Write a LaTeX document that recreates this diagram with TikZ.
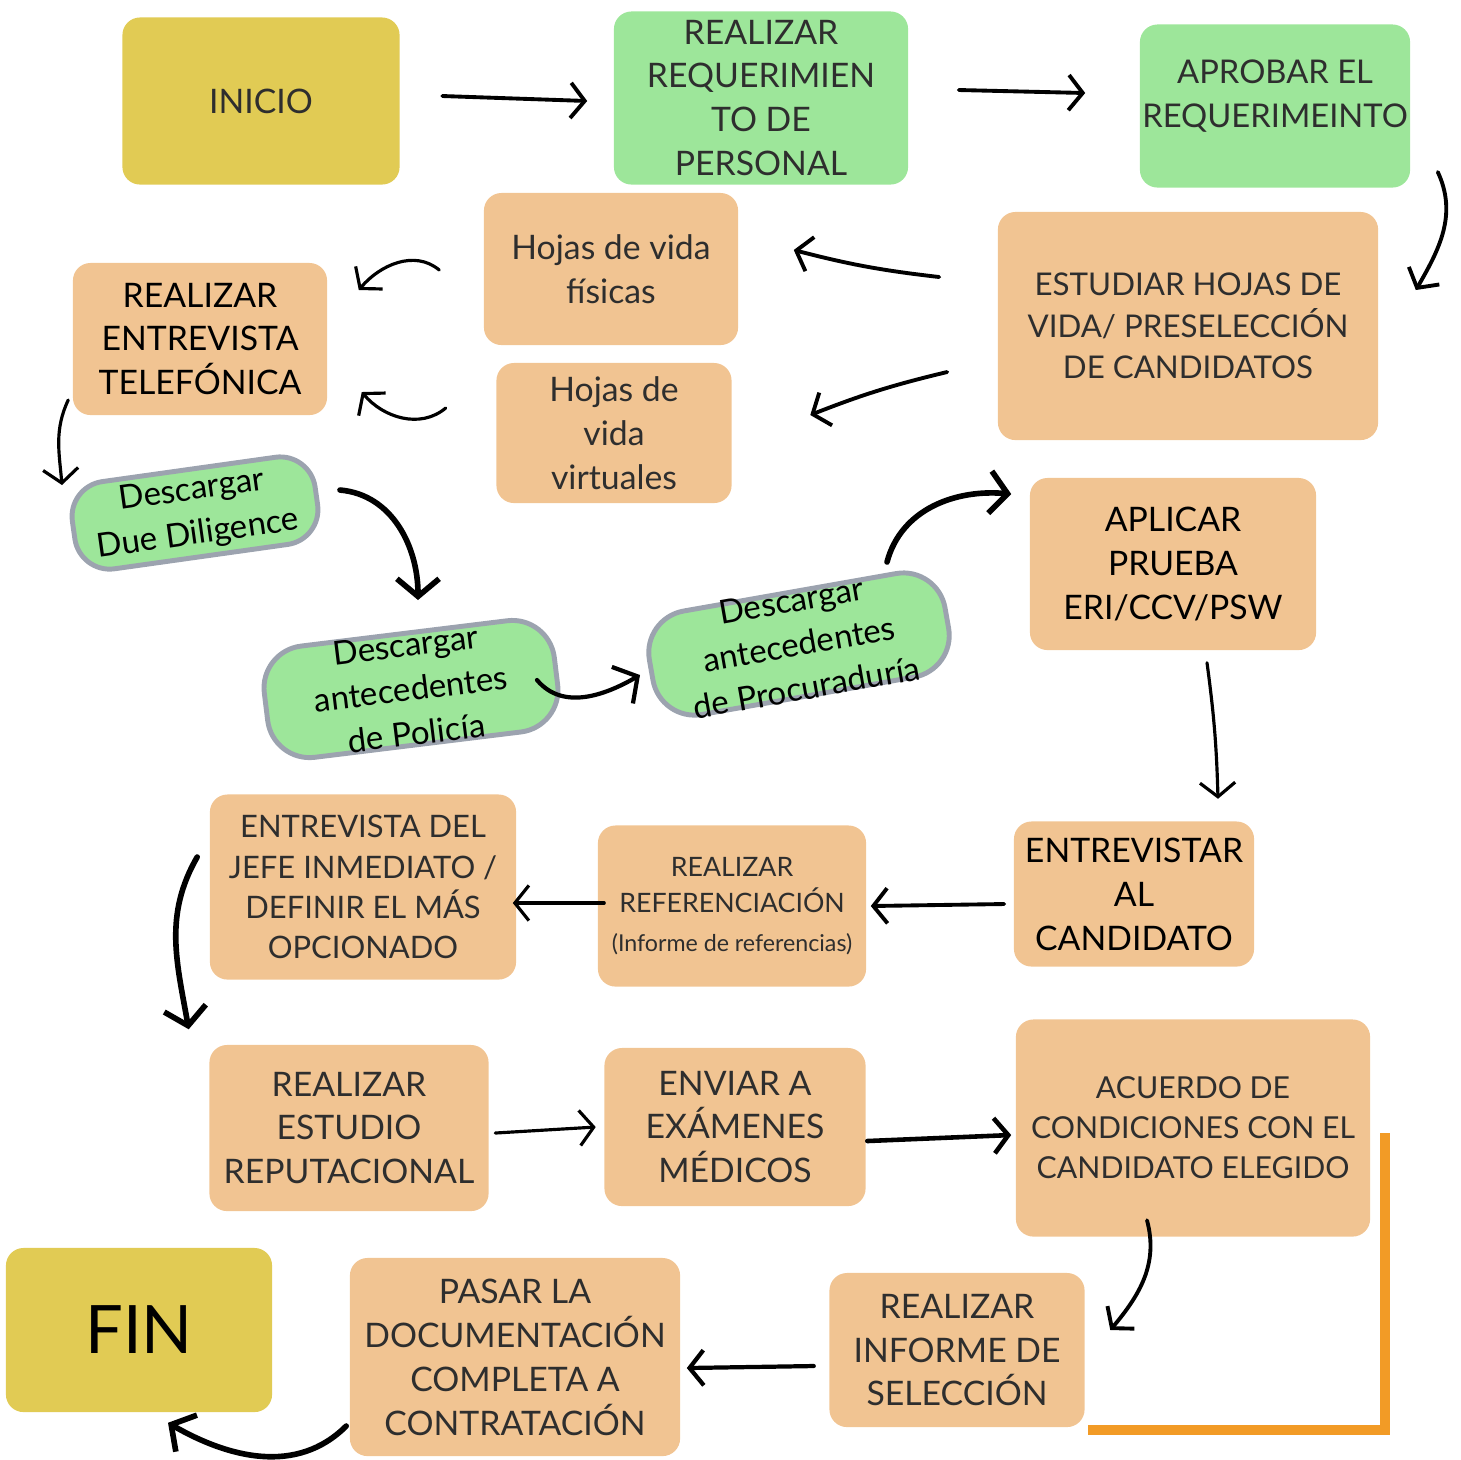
\documentclass[tikz,border=0pt]{standalone}
\usepackage{fontspec}
\setmainfont{Lato}
\usetikzlibrary{
    arrows.meta,
    calc,
    shapes.geometric
}
\definecolor{startyellow}{HTML}{E1CB54}
\definecolor{reqgreen}{HTML}{9DE69A}
\definecolor{stepbeige}{HTML}{F1C492}
\definecolor{blobgray}{HTML}{9CA3AF}
\definecolor{boxtext}{HTML}{2E2E2E}
\definecolor{markorange}{HTML}{F29B26}

\begin{document}
\begin{tikzpicture}[
  x=0.01cm, y=-0.01cm,
  box/.style={rounded corners=5pt, inner sep=0pt, align=center, text=boxtext,
    font=\fontsize{9.6}{12.5}\selectfont},
  yellowbox/.style={box, fill=startyellow},
  greenbox/.style={box, fill=reqgreen},
  stepbox/.style={box, fill=stepbeige},
  blob/.style={rectangle, rounded corners=12pt, fill=reqgreen, draw=blobgray, line width=1.4pt,
    inner xsep=-6pt, inner ysep=-8pt, align=center, text=black,
    font=\fontsize{9.4}{12.6}\selectfont},
  flow/.style={-{Straight Barb[length=4pt,width=10pt]}, line width=0.9pt, line cap=round},
  boldflow/.style={-{Straight Barb[length=5pt,width=12pt]}, line width=1.6pt, line cap=round}
]
  \useasboundingbox (0,0) rectangle (1461,1459);

  % top row {{{
  \node[
    yellowbox,
    minimum width=2.77cm,
    minimum height=1.67cm
  ] (inicio) at (261,101) {INICIO};
  \node[
    greenbox,
    minimum width=2.94cm,
    minimum height=1.73cm
  ] (requerir) at (761,98) {REALIZAR\\REQUERIMIEN\\TO DE\\PERSONAL};
  \node[
    greenbox,
    minimum width=2.70cm,
    minimum height=1.63cm,
    text depth=7.3pt,
    font=\fontsize{9.3}{12.5}\selectfont
  ] (aprobar) at (1275,106) {APROBAR EL\\REQUERIMEINTO};
  % }}}

  % hojas de vida {{{
  \node[
    stepbox,
    minimum width=3.80cm,
    minimum height=2.28cm,
    font=\fontsize{8.9}{11.8}\selectfont
  ] (estudiar) at (1188,326) {ESTUDIAR HOJAS DE\\VIDA/ PRESELECCIÓN\\DE CANDIDATOS};
  \node[
    stepbox,
    minimum width=2.54cm,
    minimum height=1.52cm
  ] (fisicas) at (611,269) {Hojas de vida\\físicas};
  \node[
    stepbox,
    minimum width=2.35cm,
    minimum height=1.40cm
  ] (virtuales) at (614,433) {Hojas de\\vida\\virtuales};
  \node[
    stepbox,
    minimum width=2.54cm,
    minimum height=1.52cm,
    text=black
  ] (telefono) at (200,339) {REALIZAR\\ENTREVISTA\\TELEFÓNICA};
  % }}}

  % descargas {{{
  \node[
    blob,
    minimum width=2.45cm,
    minimum height=0.88cm,
    rounded corners=10pt,
    rotate=8
  ] (diligence) at (195,513) {Descargar\\Due Diligence};
  \node[
    blob,
    minimum width=2.92cm,
    minimum height=1.12cm,
    rotate=7
  ] (policia) at (411,689) {Descargar\\antecedentes\\de Policía};
  \node[
    blob,
    minimum width=3.00cm,
    minimum height=1.05cm,
    rotate=10
  ] (procuraduria) at (799,644) {Descargar\\antecedentes\\de Procuraduría};
  \node[
    stepbox,
    minimum width=2.86cm,
    minimum height=1.72cm,
    text=black
  ] (aplicar) at (1173,564) {APLICAR\\PRUEBA\\ERI/CCV/PSW};
  % }}}

  % entrevistas {{{
  \node[
    stepbox,
    minimum width=2.40cm,
    minimum height=1.45cm,
    text=black
  ] (candidato) at (1134,894) {ENTREVISTAR\\AL\\CANDIDATO};
  \node[
    stepbox,
    minimum width=2.68cm,
    minimum height=1.61cm,
    font=\fontsize{7.6}{10.2}\selectfont
  ] (referencias) at (732,906) {REALIZAR\\REFERENCIACIÓN\\[1pt]{\fontsize{6.6}{8}\selectfont(Informe de referencias)}};
  \node[
    stepbox,
    minimum width=3.06cm,
    minimum height=1.85cm,
    font=\fontsize{8.8}{11.4}\selectfont
  ] (jefe) at (363,887) {ENTREVISTA DEL\\JEFE INMEDIATO /\\DEFINIR EL MÁS\\OPCIONADO};
  % }}}

  % cierre {{{
  \node[
    stepbox,
    minimum width=2.79cm,
    minimum height=1.66cm
  ] (reputacion) at (349,1128) {REALIZAR\\ESTUDIO\\REPUTACIONAL};
  \node[
    stepbox,
    minimum width=2.61cm,
    minimum height=1.58cm
  ] (examenes) at (735,1127) {ENVIAR A\\EXÁMENES\\MÉDICOS};
  \node[
    stepbox,
    minimum width=3.54cm,
    minimum height=2.17cm,
    font=\fontsize{8.6}{11.4}\selectfont
  ] (acuerdo) at (1193,1128) {ACUERDO DE\\CONDICIONES CON EL\\CANDIDATO ELEGIDO};
  \node[
    stepbox,
    minimum width=2.55cm,
    minimum height=1.54cm
  ] (informe) at (957,1350) {REALIZAR\\INFORME DE\\SELECCIÓN};
  \node[
    stepbox,
    minimum width=3.30cm,
    minimum height=1.98cm
  ] (contratacion) at (515,1357) {PASAR LA\\DOCUMENTACIÓN\\COMPLETA A\\CONTRATACIÓN};
  \node[
    yellowbox,
    minimum width=2.66cm,
    minimum height=1.64cm,
    text=black,
    font=\fontsize{19}{22}\selectfont
  ] (fin) at (139,1330) {FIN};
  % }}}

  % flechas {{{
  \draw[flow, line width=1.1pt] ($(inicio.east)+(42,-5)$) -- ($(requerir.west)+(-26,3)$);
  \draw[flow, line width=1.1pt] ($(requerir.east)+(50,-8)$) -- ($(aprobar.west)+(-54,-13)$);
  \draw[flow, line width=1.1pt] ($(aprobar.east)+(27,66)$) to[out=-65,in=60] ($(estudiar.east)+(37,-36)$);
  \draw[flow, line width=1.1pt] ($(estudiar.west)+(-58,-49)$) to[bend left=4] ($(fisicas.east)+(55,-19)$);
  \draw[flow, line width=1.1pt] ($(estudiar.west)+(-50,46)$) to[bend right=4] ($(virtuales.east)+(78,-18)$);
  \draw[flow] ($(fisicas.west)+(-44,1)$) to[out=140,in=50] ($(telefono.east)+(31,-49)$);
  \draw[flow] ($(virtuales.west)+(-50,-25)$) to[out=-140,in=-50] ($(telefono.east)+(34,53)$);
  \draw[flow] ($(telefono.west)+(-4,61)$) to[out=-115,in=95] ($(diligence.center)+(-133,-28)$);
  \draw[boldflow] ($(diligence.center)+(145,-23)$) to[out=-5,in=90] ($(policia.center)+(7,-89)$);
  \draw[boldflow, line width=1.2pt] ($(policia.center)+(126,-9)$) to[out=-50,in=-150] ($(procuraduria.center)+(-159,31)$);
  \draw[boldflow] ($(procuraduria.center)+(88,-82)$) to[out=75,in=175] ($(aplicar.west)+(-18,-70)$);
  \draw[flow] ($(aplicar.south)+(34,12)$) to[bend left=3] ($(candidato.north)+(84,-22)$);
  \draw[flow, line width=1.1pt] ($(candidato.west)+(-9,10)$) -- ($(referencias.east)+(4,0)$);
  \draw[flow] ($(referencias.west)+(7,-3)$) -- ($(jefe.east)+(-4,16)$);
  \draw[boldflow] ($(jefe.west)+(-12,-30)$) to[out=-120,in=100] ($(reputacion.north west)+(-20,-15)$);
  \draw[flow] ($(reputacion.east)+(6,5)$) -- ($(examenes.west)+(-8,0)$);
  \draw[flow, line width=1.3pt] ($(examenes.east)+(1,14)$) -- ($(acuerdo.west)+(-4,7)$);
  \draw[flow, line width=1.1pt] ($(acuerdo.south)+(-46,-17)$) to[out=-75,in=50] ($(informe.east)+(25,-20)$);
  \draw[flow, line width=1.2pt] ($(informe.west)+(-15,16)$) -- ($(contratacion.east)+(6,11)$);
  \draw[boldflow] ($(contratacion.west)+(-3,69)$) to[out=-135,in=-30] ($(fin.south)+(29,10)$);
  % }}}

  % marco naranja
  \draw[markorange, line width=2.9pt] (1385,1133) -- (1385,1430) -- (1088,1430);

\end{tikzpicture}
\end{document}
